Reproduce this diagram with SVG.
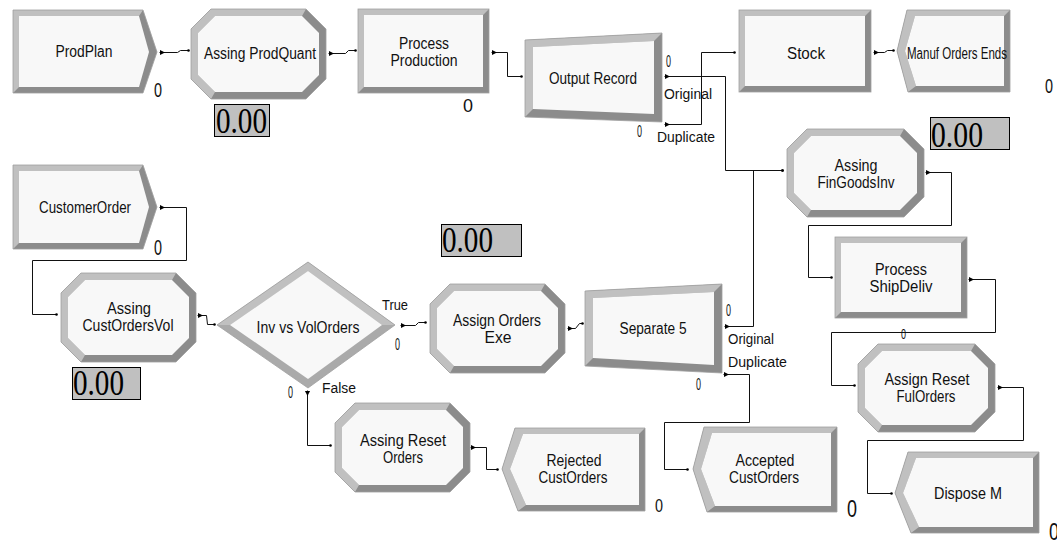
<svg xmlns="http://www.w3.org/2000/svg" width="1057" height="543" viewBox="0 0 1057 543">
<style>
.lt{fill:#c0c0c0}
.dk{fill:#8c8c8c}
.dd{fill:#aaaaaa}
.in{fill:#f8f8f8}
.ol{fill:none;stroke:#a0a0a0;stroke-width:0.8}
.lbl{font-family:"Liberation Sans",Arial,sans-serif;font-size:16px;fill:#111;text-anchor:middle}
.sm{font-family:"Liberation Sans",Arial,sans-serif;font-size:14px;fill:#111}
.cnt{font-family:"Liberation Sans",Arial,sans-serif;fill:#111}
.vbox{fill:#c0c0c0;stroke:#000;stroke-width:1}
.val{font-family:"Liberation Serif","Times New Roman",serif;font-size:35px;fill:#000}
.cn{fill:none;stroke:#111;stroke-width:1;marker-start:url(#ex);marker-end:url(#en)}
</style>
<defs>
<marker id="ex" markerUnits="userSpaceOnUse" markerWidth="7" markerHeight="7" viewBox="0 -3.5 7 7" refX="0" refY="0" orient="auto"><path d="M0,-2.8 L5.5,0 L0,2.8 z" fill="#000"/></marker>
<marker id="en" markerUnits="userSpaceOnUse" markerWidth="4" markerHeight="4" viewBox="-2 -2 4 4" refX="0" refY="0" orient="auto"><circle r="1.3" fill="#000"/></marker>
</defs>
<rect width="1057" height="543" fill="#ffffff"/>

<g id="connectors" transform="translate(0.5,0.5)">
<path class="cn" d="M159,52 H177 L180,50 H188"/>
<path class="cn" d="M328,53 H345 L348,50 H355"/>
<path class="cn" d="M491,52 H507 V76 H521"/>
<path class="cn" d="M664,76 H725 V170 H782"/>
<path class="cn" d="M664,124 H701 V52 H734"/>
<path class="cn" d="M873,52 H884 L887,50 H893"/>
<path class="cn" d="M724,326 H753 V170 H782"/>
<path class="cn" d="M925,172 H951 V225 H808 V277 H831"/>
<path class="cn" d="M968,279 H995 V332 H831 V385 H854"/>
<path class="cn" d="M997,387 H1023 V440 H867 V493 H891"/>
<path class="cn" d="M159,207 H186 V260 H32 V314 H56"/>
<path class="cn" d="M197,315 H206 L207,324 H214"/>
<path class="cn" d="M400,325 H415 L418,322 H425"/>
<path class="cn" d="M567,328 H575 L579,323 H582"/>
<path class="cn" d="M307,390 V445 H330"/>
<path class="cn" d="M470,447 H486 V469 H497"/>
<path class="cn" d="M723,374 H749 V422 H664 V469 H687"/>
</g>

<g id="ProdPlan">
<polygon class="dk" points="13,10 143,10 157,52 143,93 13,93"/>
<polygon class="lt" points="143,10 13,10 13,93 19,87 19,16 139,16"/>
<polygon class="in" points="19,16 139,16 149,52 139,87 19,87"/>
<polygon class="ol" points="13,10 143,10 157,52 143,93 13,93"/>
<text class="lbl" x="84" y="57" textLength="57" lengthAdjust="spacingAndGlyphs">ProdPlan</text>
<text class="cnt" x="154" y="97" font-size="21" textLength="8" lengthAdjust="spacingAndGlyphs">0</text>
</g>

<g id="AssingProdQuant">
<polygon class="dk" points="211,9 306,9 326,29 326,79 306,99 211,99 191,79 191,29"/>
<polygon class="lt" points="306,9 211,9 191,29 191,79 211,99 215,92 198,75 198,33 215,16 302,16"/>
<polygon class="in" points="215,16 302,16 319,33 319,75 302,92 215,92 198,75 198,33"/>
<polygon class="ol" points="211,9 306,9 326,29 326,79 306,99 211,99 191,79 191,29"/>
<text class="lbl" x="260" y="59" textLength="112" lengthAdjust="spacingAndGlyphs">Assing ProdQuant</text>
<rect class="vbox" x="214.5" y="104.5" width="55" height="32"/>
<text class="val" x="216" y="133" textLength="51" lengthAdjust="spacingAndGlyphs">0.00</text>
</g>

<g id="ProcessProduction">
<rect class="dk" x="358" y="9" width="131" height="84"/>
<polygon class="lt" points="358,9 489,9 483,15 364,15 364,87 358,93"/>
<rect class="in" x="364" y="15" width="119" height="72"/>
<rect class="ol" x="358" y="9" width="131" height="84"/>
<text class="lbl" x="424" y="49" textLength="50" lengthAdjust="spacingAndGlyphs">Process</text>
<text class="lbl" x="424" y="66" textLength="67" lengthAdjust="spacingAndGlyphs">Production</text>
<text class="cnt" x="463" y="112" font-size="19" textLength="10" lengthAdjust="spacingAndGlyphs">0</text>
</g>

<g id="OutputRecord">
<polygon class="dk" points="525,40 662,33 662,122 525,117"/>
<polygon class="lt" points="662,33 525,40 525,117 533,109 533,47 654,41"/>
<polygon class="in" points="533,47 654,41 654,114 533,109"/>
<polygon class="ol" points="525,40 662,33 662,122 525,117"/>
<text class="lbl" x="593" y="84" textLength="88" lengthAdjust="spacingAndGlyphs">Output Record</text>
<text class="cnt" x="666" y="67" font-size="16" textLength="5" lengthAdjust="spacingAndGlyphs">0</text>
<text class="cnt" x="637" y="137" font-size="16" textLength="5" lengthAdjust="spacingAndGlyphs">0</text>
<text class="sm" x="664" y="99" textLength="48" lengthAdjust="spacingAndGlyphs">Original</text>
<text class="sm" x="657" y="142" textLength="58" lengthAdjust="spacingAndGlyphs">Duplicate</text>
</g>

<g id="Stock">
<rect class="dk" x="739" y="10" width="132" height="82"/>
<polygon class="lt" points="739,10 871,10 865,16 745,16 745,86 739,92"/>
<rect class="in" x="745" y="16" width="120" height="70"/>
<rect class="ol" x="739" y="10" width="132" height="82"/>
<text class="lbl" x="806" y="59" textLength="38" lengthAdjust="spacingAndGlyphs">Stock</text>
</g>

<g id="ManufOrdersEnds">
<polygon class="dk" points="907,10 1010,10 1010,92 908,92 897,51"/>
<polygon class="lt" points="1010,10 907,10 897,51 908,92 916,86 905,51 915,16 1004,16"/>
<polygon class="in" points="915,16 1004,16 1004,86 916,86 905,51"/>
<polygon class="ol" points="907,10 1010,10 1010,92 908,92 897,51"/>
<text class="lbl" x="957" y="59" textLength="100" lengthAdjust="spacingAndGlyphs">Manuf Orders Ends</text>
<text class="cnt" x="1045" y="93" font-size="21" textLength="8" lengthAdjust="spacingAndGlyphs">0</text>
</g>

<g id="AssingFinGoodsInv">
<polygon class="dk" points="807,129 904,129 924,149 924,197 904,217 807,217 787,197 787,149"/>
<polygon class="lt" points="904,129 807,129 787,149 787,197 807,217 811,210 794,193 794,153 811,136 900,136"/>
<polygon class="in" points="811,136 900,136 917,153 917,193 900,210 811,210 794,193 794,153"/>
<polygon class="ol" points="807,129 904,129 924,149 924,197 904,217 807,217 787,197 787,149"/>
<text class="lbl" x="856" y="171" textLength="43" lengthAdjust="spacingAndGlyphs">Assing</text>
<text class="lbl" x="856" y="188" textLength="77" lengthAdjust="spacingAndGlyphs">FinGoodsInv</text>
<rect class="vbox" x="930.5" y="117.5" width="79" height="32"/>
<text class="val" x="931" y="147" textLength="52" lengthAdjust="spacingAndGlyphs">0.00</text>
</g>

<g id="ProcessShipDeliv">
<rect class="dk" x="835" y="237" width="132" height="81"/>
<polygon class="lt" points="835,237 967,237 961,243 841,243 841,312 835,318"/>
<rect class="in" x="841" y="243" width="120" height="69"/>
<rect class="ol" x="835" y="237" width="132" height="81"/>
<text class="lbl" x="901" y="275" textLength="52" lengthAdjust="spacingAndGlyphs">Process</text>
<text class="lbl" x="901" y="292" textLength="63" lengthAdjust="spacingAndGlyphs">ShipDeliv</text>
<text class="cnt" x="901" y="339" font-size="15" textLength="5" lengthAdjust="spacingAndGlyphs">0</text>
</g>

<g id="AssignResetFulOrders">
<polygon class="dk" points="878,344 975,344 995,364 995,412 975,432 878,432 858,412 858,364"/>
<polygon class="lt" points="975,344 878,344 858,364 858,412 878,432 882,425 865,408 865,368 882,351 971,351"/>
<polygon class="in" points="882,351 971,351 988,368 988,408 971,425 882,425 865,408 865,368"/>
<polygon class="ol" points="878,344 975,344 995,364 995,412 975,432 878,432 858,412 858,364"/>
<text class="lbl" x="927" y="385" textLength="85" lengthAdjust="spacingAndGlyphs">Assign Reset</text>
<text class="lbl" x="926" y="402" textLength="59" lengthAdjust="spacingAndGlyphs">FulOrders</text>
</g>

<g id="DisposeM">
<polygon class="dk" points="908,452 1039,452 1039,533 911,533 895,493"/>
<polygon class="lt" points="1039,452 908,452 895,493 911,533 919,527 903,493 916,458 1033,458"/>
<polygon class="in" points="916,458 1033,458 1033,527 919,527 903,493"/>
<polygon class="ol" points="908,452 1039,452 1039,533 911,533 895,493"/>
<text class="lbl" x="968" y="499" textLength="68" lengthAdjust="spacingAndGlyphs">Dispose M</text>
<text class="cnt" x="1049" y="540" font-size="23" textLength="10" lengthAdjust="spacingAndGlyphs">0</text>
</g>

<g id="CustomerOrder">
<polygon class="dk" points="13,165 143,165 157,207 143,249 13,249"/>
<polygon class="lt" points="143,165 13,165 13,249 19,243 19,171 139,171"/>
<polygon class="in" points="19,171 139,171 149,207 139,243 19,243"/>
<polygon class="ol" points="13,165 143,165 157,207 143,249 13,249"/>
<text class="lbl" x="85" y="213" textLength="92" lengthAdjust="spacingAndGlyphs">CustomerOrder</text>
<text class="cnt" x="154" y="255" font-size="22" textLength="8" lengthAdjust="spacingAndGlyphs">0</text>
</g>

<g id="AssingCustOrdersVol">
<polygon class="dk" points="81,273 176,273 196,293 196,342 176,362 81,362 61,342 61,293"/>
<polygon class="lt" points="176,273 81,273 61,293 61,342 81,362 85,355 68,338 68,297 85,280 172,280"/>
<polygon class="in" points="85,280 172,280 189,297 189,338 172,355 85,355 68,338 68,297"/>
<polygon class="ol" points="81,273 176,273 196,293 196,342 176,362 81,362 61,342 61,293"/>
<text class="lbl" x="129" y="314" textLength="44" lengthAdjust="spacingAndGlyphs">Assing</text>
<text class="lbl" x="128" y="331" textLength="91" lengthAdjust="spacingAndGlyphs">CustOrdersVol</text>
<rect class="vbox" x="72.5" y="367.5" width="68" height="32"/>
<text class="val" x="73" y="395" textLength="51" lengthAdjust="spacingAndGlyphs">0.00</text>
</g>

<g id="InvVsVolOrders">
<polygon class="dd" points="217,325 308,262 395,325 308,388"/>
<polygon class="lt" points="217,325 308,262 395,325 382,325 308,271 230,325"/>
<polygon class="in" points="230,325 308,271 382,325 308,379"/>
<polygon class="ol" points="217,325 308,262 395,325 308,388"/>
<text class="lbl" x="308" y="333" textLength="103" lengthAdjust="spacingAndGlyphs">Inv vs VolOrders</text>
<text class="sm" x="382" y="310" textLength="26" lengthAdjust="spacingAndGlyphs">True</text>
<text class="sm" x="322" y="393" textLength="34" lengthAdjust="spacingAndGlyphs">False</text>
<text class="cnt" x="395" y="350" font-size="16" textLength="5" lengthAdjust="spacingAndGlyphs">0</text>
<text class="cnt" x="288" y="398" font-size="17" textLength="5" lengthAdjust="spacingAndGlyphs">0</text>
</g>

<g id="MidValue">
<rect class="vbox" x="441.5" y="224.5" width="80" height="32"/>
<text class="val" x="442" y="252" textLength="51" lengthAdjust="spacingAndGlyphs">0.00</text>
</g>

<g id="AssignOrdersExe">
<polygon class="dk" points="450,284 545,284 565,304 565,353 545,373 450,373 430,353 430,304"/>
<polygon class="lt" points="545,284 450,284 430,304 430,353 450,373 454,366 437,349 437,308 454,291 541,291"/>
<polygon class="in" points="454,291 541,291 558,308 558,349 541,366 454,366 437,349 437,308"/>
<polygon class="ol" points="450,284 545,284 565,304 565,353 545,373 450,373 430,353 430,304"/>
<text class="lbl" x="497" y="326" textLength="88" lengthAdjust="spacingAndGlyphs">Assign Orders</text>
<text class="lbl" x="498" y="343" textLength="27" lengthAdjust="spacingAndGlyphs">Exe</text>
</g>

<g id="Separate5">
<polygon class="dk" points="585,291 722,284 722,373 585,366"/>
<polygon class="lt" points="722,284 585,291 585,366 593,358 593,298 714,292"/>
<polygon class="in" points="593,298 714,292 714,365 593,358"/>
<polygon class="ol" points="585,291 722,284 722,373 585,366"/>
<text class="lbl" x="653" y="334" textLength="67" lengthAdjust="spacingAndGlyphs">Separate 5</text>
<text class="cnt" x="726" y="316" font-size="16" textLength="5" lengthAdjust="spacingAndGlyphs">0</text>
<text class="cnt" x="696" y="390" font-size="16" textLength="5" lengthAdjust="spacingAndGlyphs">0</text>
<text class="sm" x="728" y="344" textLength="46" lengthAdjust="spacingAndGlyphs">Original</text>
<text class="sm" x="728" y="367" textLength="59" lengthAdjust="spacingAndGlyphs">Duplicate</text>
</g>

<g id="AssingResetOrders">
<polygon class="dk" points="355,403 450,403 470,423 470,472 450,492 355,492 335,472 335,423"/>
<polygon class="lt" points="450,403 355,403 335,423 335,472 355,492 359,485 342,468 342,427 359,410 446,410"/>
<polygon class="in" points="359,410 446,410 463,427 463,468 446,485 359,485 342,468 342,427"/>
<polygon class="ol" points="355,403 450,403 470,423 470,472 450,492 355,492 335,472 335,423"/>
<text class="lbl" x="403" y="446" textLength="86" lengthAdjust="spacingAndGlyphs">Assing Reset</text>
<text class="lbl" x="403" y="463" textLength="40" lengthAdjust="spacingAndGlyphs">Orders</text>
</g>

<g id="RejectedCustOrders">
<polygon class="dk" points="515,428 645,428 645,511 518,511 502,469"/>
<polygon class="lt" points="645,428 515,428 502,469 518,511 526,505 510,469 523,434 639,434"/>
<polygon class="in" points="523,434 639,434 639,505 526,505 510,469"/>
<polygon class="ol" points="515,428 645,428 645,511 518,511 502,469"/>
<text class="lbl" x="574" y="466" textLength="55" lengthAdjust="spacingAndGlyphs">Rejected</text>
<text class="lbl" x="573" y="483" textLength="69" lengthAdjust="spacingAndGlyphs">CustOrders</text>
<text class="cnt" x="655" y="512" font-size="19" textLength="8" lengthAdjust="spacingAndGlyphs">0</text>
</g>

<g id="AcceptedCustOrders">
<polygon class="dk" points="704,427 837,427 837,512 707,512 693,469"/>
<polygon class="lt" points="837,427 704,427 693,469 707,512 715,506 701,469 712,433 831,433"/>
<polygon class="in" points="712,433 831,433 831,506 715,506 701,469"/>
<polygon class="ol" points="704,427 837,427 837,512 707,512 693,469"/>
<text class="lbl" x="765" y="466" textLength="59" lengthAdjust="spacingAndGlyphs">Accepted</text>
<text class="lbl" x="764" y="483" textLength="70" lengthAdjust="spacingAndGlyphs">CustOrders</text>
<text class="cnt" x="847" y="517" font-size="23" textLength="10" lengthAdjust="spacingAndGlyphs">0</text>
</g>
</svg>
